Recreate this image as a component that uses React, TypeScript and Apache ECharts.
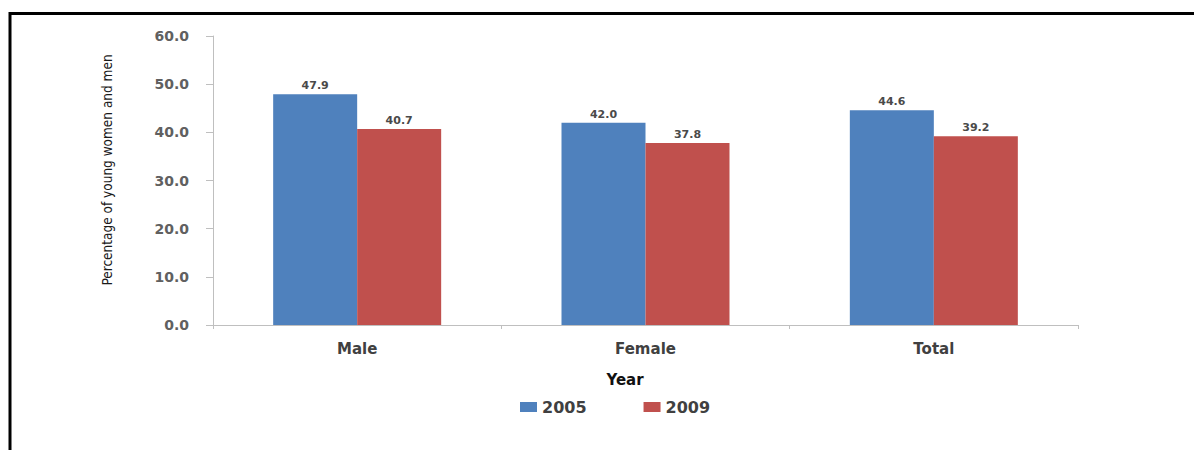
import React, { useEffect, useRef } from "react";
import * as echarts from "echarts";

const categories = ["Male", "Female", "Total"];
const values2005 = [47.9, 42.0, 44.6];
const values2009 = [40.7, 37.8, 39.2];
const seriesNames = ["2005", "2009"];
const yTicks = [0, 10, 20, 30, 40, 50, 60];
const yTitle = "Percentage of young women and men";
const xTitle = "Year";

export default function App() {
  const ref = useRef<HTMLDivElement>(null);
  useEffect(() => {
    document.body.style.margin = "0";
    const chart = echarts.init(ref.current!, undefined, { renderer: "svg" });
    const labelStyle = {
      show: true,
      position: "top" as const,
      distance: 3,
      fontFamily: "DejaVu Sans",
      fontWeight: "bold" as const,
      fontSize: 11,
      color: "#4a4a4a",
      formatter: (p: any) => Number(p.value).toFixed(1),
    };
    chart.setOption({
      animation: false,
      backgroundColor: "#ffffff",
      grid: { left: 213, right: 116, top: 36, bottom: 125, containLabel: false },
      legend: {
        left: 520,
        top: 399,
        padding: 0,
        itemWidth: 17,
        itemHeight: 10,
        itemGap: 57,
        icon: "rect",
        textStyle: { fontFamily: "DejaVu Sans", fontSize: 16, fontWeight: "bold", color: "#404040" },
        data: seriesNames,
      },
      xAxis: {
        type: "category",
        data: categories,
        axisLine: { lineStyle: { color: "#bfbfbf", width: 1 } },
        axisTick: { show: true, length: 4, lineStyle: { color: "#bfbfbf" } },
        axisLabel: { margin: 16, fontFamily: "DejaVu Sans", fontWeight: "bold", fontSize: 15, color: "#404040" },
      },
      yAxis: {
        type: "value",
        min: yTicks[0],
        max: yTicks[yTicks.length - 1],
        interval: 10,
        axisLine: { show: true, lineStyle: { color: "#bfbfbf", width: 1 } },
        axisTick: { show: true, inside: false, length: 7, lineStyle: { color: "#bfbfbf" } },
        splitLine: { show: false },
        axisLabel: {
          margin: 24,
          fontFamily: "DejaVu Sans",
          fontWeight: "bold",
          fontSize: 14,
          color: "#606060",
          formatter: (v: number) => v.toFixed(1),
        },
      },
      series: [
        {
          name: seriesNames[0],
          type: "bar",
          data: values2005,
          barWidth: 84,
          barGap: "0%",
          itemStyle: { color: "#4F81BD" },
          label: labelStyle,
        },
        {
          name: seriesNames[1],
          type: "bar",
          data: values2009,
          barWidth: 84,
          barGap: "0%",
          itemStyle: { color: "#C0504D" },
          label: labelStyle,
        },
      ],
      graphic: [
        {
          type: "line",
          shape: { x1: 9, y1: 13.5, x2: 1194, y2: 13.5 },
          style: { stroke: "#000000", lineWidth: 3 },
        },
        {
          type: "line",
          shape: { x1: 10, y1: 12, x2: 10, y2: 450 },
          style: { stroke: "#000000", lineWidth: 3 },
        },
        {
          type: "text",
          x: 107,
          y: 170,
          rotation: Math.PI / 2,
          style: {
            text: yTitle,
            fontFamily: "'Liberation Sans Narrow', 'DejaVu Sans Condensed', 'DejaVu Sans', sans-serif",
            fontSize: 13.5,
            fill: "#1a1a1a",
            align: "center",
            verticalAlign: "middle",
          },
        },
        {
          type: "text",
          x: 625,
          y: 380,
          style: {
            text: xTitle,
            fontFamily: "DejaVu Sans",
            fontWeight: "bold",
            fontSize: 15,
            fill: "#111111",
            align: "center",
            verticalAlign: "middle",
          },
        },
      ],
    });
    return () => chart.dispose();
  }, []);
  return <div ref={ref} style={{ width: 1194, height: 450 }} />;
}
